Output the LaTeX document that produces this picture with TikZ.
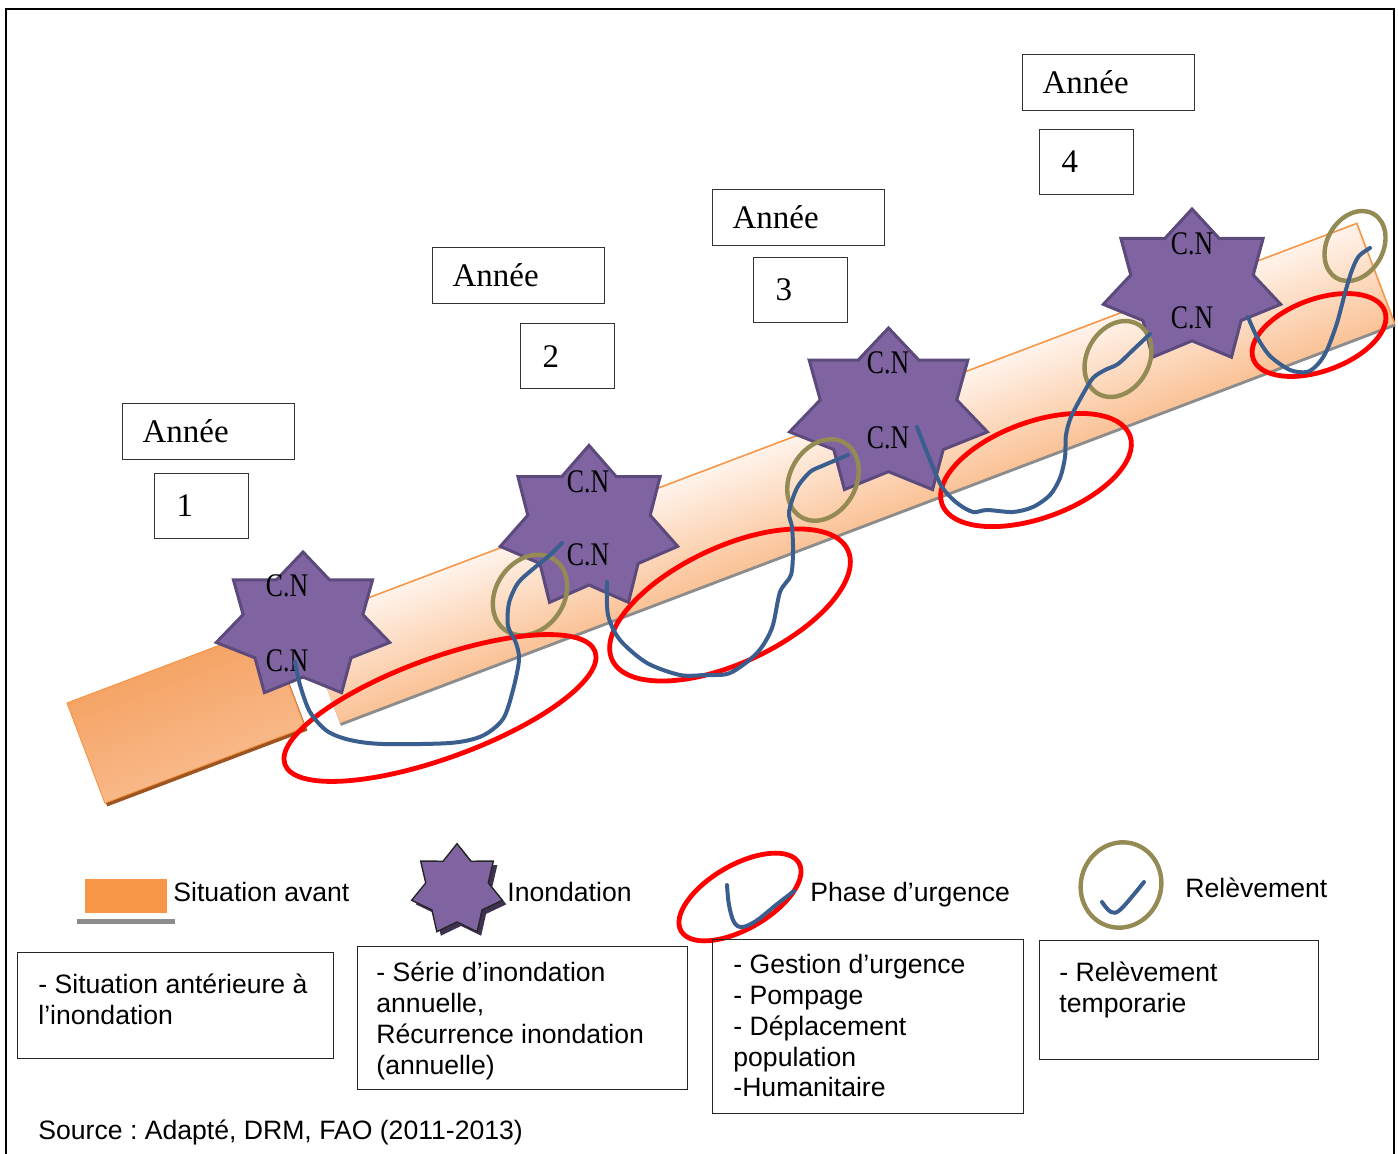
\documentclass[tikz,border=0pt]{standalone}
\usepackage{fontspec}
\newfontfamily\legendfont{Liberation Sans}
\newfontfamily\serifface{Liberation Serif}
\usepackage{graphicx}

\definecolor{starfill}{HTML}{8064A2}
\definecolor{starline}{HTML}{5C4A7D}
\definecolor{starshadow}{HTML}{3F3151}
\definecolor{curveblue}{HTML}{3A5F8E}
\definecolor{urgentred}{HTML}{FF0000}
\definecolor{recovolive}{HTML}{948A54}
\definecolor{bandedge}{HTML}{F79646}
\definecolor{bandtop}{HTML}{FFF3EB}
\definecolor{bandbottom}{HTML}{FAC296}
\definecolor{pieceedge}{HTML}{F5A466}
\definecolor{piecemid}{HTML}{F38F3C}
\definecolor{piecelow}{HTML}{F8B888}
\definecolor{pieceshadow}{HTML}{9C5520}
\definecolor{legendorange}{HTML}{F79646}

\newcommand\yearfont{\serifface\fontsize{16.5}{19}\selectfont}
\newcommand\legendtext{\legendfont\fontsize{13.3}{15.4}\selectfont\frenchspacing}
\newcommand\cntext{\scalebox{0.78}[1]{\serifface\fontsize{16.5}{19}\selectfont C.N}}

% seven-pointed star: [options]{cx}{cy}{rx}{ry}
\newcommand\heptastar[5][]{%
  \path[#1, shift={(#2,#3)}, xscale=#4, yscale=#5]
    (270:1) \foreach \k in {1,...,6}{ -- ({270+(2*\k-1)*180/7}:0.69) -- ({270+\k*360/7}:1) }
    -- ({270+13*180/7}:0.69) -- cycle;}

\begin{document}
\begin{tikzpicture}[x=0.5pt, y=-0.5pt,
  starbody/.style={fill=starfill, draw=starline, line width=1.5pt},
  cnlabel/.style={inner sep=0pt},
  flowcurve/.style={draw=curveblue, line width=2pt, line cap=round, line join=round},
  urgentring/.style={draw=urgentred, line width=2.4pt},
  recovring/.style={draw=recovolive, line width=2.2pt},
  yearbox/.style={draw=black!80, line width=0.6pt, anchor=north west, minimum height=28pt,
    text width=66pt, inner xsep=10pt, inner ysep=0pt, align=left, font=\yearfont},
  numbox/.style={yearbox, minimum height=32.5pt, text width=25pt, inner xsep=11pt},
  legendbox/.style={draw=black!85, line width=0.6pt, anchor=north west, inner sep=0pt},
  legendlabel/.style={anchor=base west, inner sep=0pt, font=\legendtext},
  boxtext/.style={anchor=north west, inner sep=0pt, align=left, font=\legendtext},
]
\useasboundingbox (0,0) rectangle (1398,1154);

% outer frame
\draw[line width=1.1pt] (6,1160) -- (6,9) -- (1394,9) -- (1394,1160);

% the band: earlier situation (dark piece) and the following years
\begin{scope}[transform canvas={shift={(67,703)}, rotate=20.75}]
  \fill[pieceshadow] (1,4) rectangle (215,111);
  \shade[top color=pieceedge, middle color=piecemid, bottom color=piecelow] (0,0) rectangle (214,107);
  \draw[bandedge, line width=0.5pt] (0,0) rectangle (214,107);
\end{scope}
\begin{scope}[transform canvas={shift={(302,623)}, rotate=20.75}]
  \fill[black!45] (0,2) rectangle (1128,110);
  \shade[top color=bandtop, bottom color=bandbottom] (0,0) rectangle (1128,107);
  \draw[bandedge, line width=0.8pt] (0,0) -- (1128,0) -- (1128,107);
\end{scope}

% flood stars
\heptastar[starbody]{303}{626}{89}{74}
\heptastar[starbody]{589}{528}{91}{82.6}
\heptastar[starbody]{888.5}{413}{101.5}{85}
\heptastar[starbody]{1192}{287}{91}{78}

\node[cnlabel] (cn1a) at (287,586) {\cntext};
\node[cnlabel] (cn1b) at (287,661) {\cntext};
\node[cnlabel] (cn2a) at (588,482) {\cntext};
\node[cnlabel] (cn2b) at (588,555) {\cntext};
\node[cnlabel] (cn3a) at (888,363) {\cntext};
\node[cnlabel] (cn3b) at (888,438) {\cntext};
\node[cnlabel] (cn4a) at (1192,244) {\cntext};
\node[cnlabel] (cn4b) at (1192,318) {\cntext};

% year labels
\node[yearbox] (annee1) at (122,403) {Année};
\node[numbox]  (num1)   at (154,473) {1};
\node[yearbox] (annee2) at (432,247) {Année};
\node[numbox]  (num2)   at (520,323) {2};
\node[yearbox] (annee3) at (712,189) {Année};
\node[numbox]  (num3)   at (753,257) {3};
\node[yearbox] (annee4) at (1022,54) {Année};
\node[numbox]  (num4)   at (1039,129) {4};

% recovery rings
\draw[recovring, rotate around={55:(530,595)}] (530,595) ellipse [x radius=43, y radius=34];
\draw[recovring, rotate around={60:(823,480)}] (823,480) ellipse [x radius=43, y radius=33];
\draw[recovring, rotate around={60:(1118,359)}] (1118,359) ellipse [x radius=40, y radius=31];
\draw[recovring, rotate around={60:(1355,246)}] (1355,246) ellipse [x radius=37, y radius=28];

% emergency rings
\draw[urgentring, rotate around={20:(440,708)}] (440,708) ellipse [x radius=165, y radius=50];
\draw[urgentring, rotate around={25:(730,605)}] (730,605) ellipse [x radius=130, y radius=58];
\draw[urgentring, rotate around={20:(1036,470)}] (1036,470) ellipse [x radius=100, y radius=48];
\draw[urgentring, rotate around={20:(1319,335)}] (1319,335) ellipse [x radius=70, y radius=36];

% yearly flood / emergency / recovery curves
\draw[flowcurve] plot[smooth, tension=0.5] coordinates {(295,662) (300,685) (310,712) (327,731)
  (350,740) (383,744) (450,743) (482,736) (503,719) (513,690) (519,660) (516,643) (508,626)
  (509,603) (518,583) (533,569) (550,555) (562,543)};
\draw[flowcurve] plot[smooth, tension=0.5] coordinates {(607,582) (608,615) (620,640) (647,663)
  (680,675) (705,675) (730,673) (757,653) (772,628) (780,592) (791,575) (793,550) (792,527)
  (789,512) (797,488) (810,472) (822,466) (848,455)};
\draw[flowcurve] plot[smooth, tension=0.5] coordinates {(917,427) (930,460) (942,487) (957,503)
  (973,512) (987,510) (1013,512) (1033,507) (1050,495) (1060,478) (1065,457) (1066,435)
  (1071,417) (1083,394) (1093,378) (1105,370) (1118,364) (1133,350) (1150,334)};
\draw[flowcurve] plot[smooth, tension=0.5] coordinates {(1248,317) (1257,337) (1270,356)
  (1290,370) (1307,372) (1318,364) (1327,350) (1337,323) (1345,293) (1352,270) (1359,256)
  (1370,248)};

% legend
\fill[black!45] (77,919) rectangle (175,924);
\node[fill=legendorange, anchor=north west, minimum width=41pt, minimum height=17pt, inner sep=0pt]
  (swatch) at (85,879) {};
\node[legendlabel] (lab1) at (173,901.5) {Situation avant};

\heptastar[fill=starshadow]{461}{894}{46.5}{46.3}
\heptastar[fill=starfill, draw=black!85, line width=0.7pt]{457}{890}{46.5}{46.3}
\node[legendlabel] (lab2) at (507,901.5) {Inondation};

\draw[urgentring, rotate around={30:(740,897)}] (740,897) ellipse [x radius=68, y radius=32];
\draw[flowcurve] plot[smooth, tension=0.6] coordinates {(727,885) (729,905) (734,922) (742,927)
  (756,921) (776,905) (794,891)};
\node[legendlabel] (lab3) at (810,901.5) {Phase d’urgence};

\draw[recovring, rotate around={-20:(1121,885)}] (1121,885) ellipse [x radius=40, y radius=43];
\draw[flowcurve] plot[smooth, tension=0.6] coordinates {(1102,902) (1111,912) (1121,909) (1144,882)};
\node[legendlabel] (lab4) at (1185,897.5) {Relèvement};

\node[legendbox, minimum width=158pt, minimum height=53pt] (desc1) at (17,952) {};
\node[legendbox, minimum width=165pt, minimum height=71.5pt] (desc2) at (357,946) {};
\node[legendbox, minimum width=155.5pt, minimum height=87pt] (desc3) at (712,939) {};
\node[legendbox, minimum width=139.5pt, minimum height=59.5pt] (desc4) at (1039,940) {};

\node[boxtext] (txt1) at (38,974) {- Situation antérieure à\\l’inondation};
\node[boxtext] (txt2) at (376,962) {- Série d’inondation\\annuelle,\\Récurrence inondation\\(annuelle)};
\node[boxtext] (txt3) at (733,954) {- Gestion d’urgence\\- Pompage\\- Déplacement\\population\\-Humanitaire};
\node[boxtext] (txt4) at (1059,962) {- Relèvement\\temporarie};

\node[legendlabel] (source) at (38,1139) {Source : Adapté, DRM, FAO (2011-2013)};
\end{tikzpicture}
\end{document}
